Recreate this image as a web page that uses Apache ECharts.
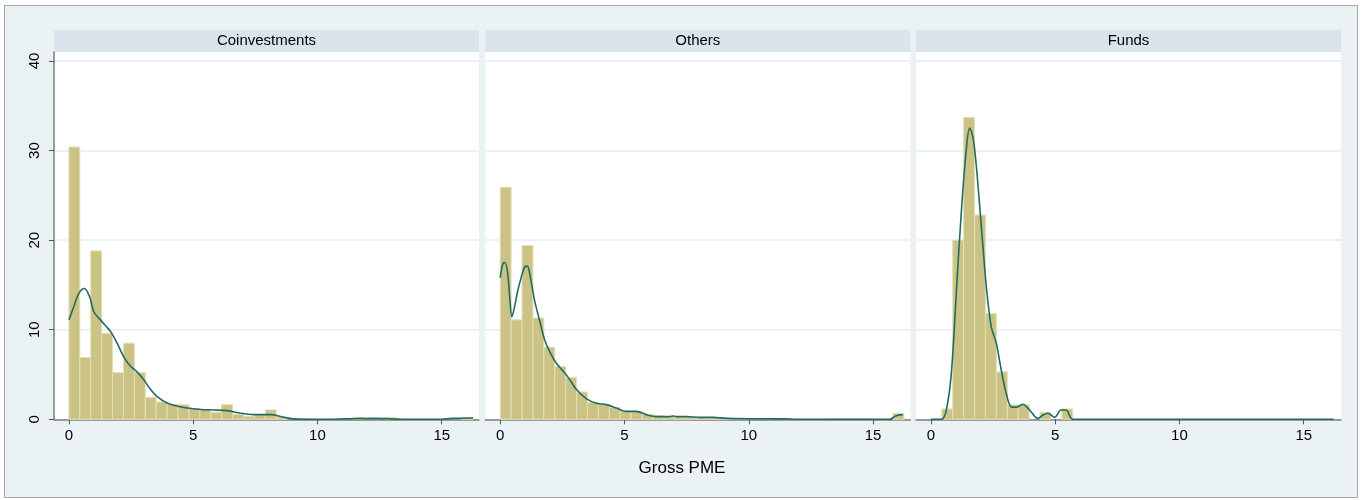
<!DOCTYPE html>
<html>
<head>
<meta charset="utf-8">
<script src="https://cdn.jsdelivr.net/npm/echarts@6/dist/echarts.min.js"></script>
<style>
  body { margin: 0; background: #fff; }
  #frame {
    position: absolute; left: 4px; top: 5px; width: 1354px; height: 493px;
    background: #eaf2f3; border: 1px solid #a8a8a8; box-sizing: border-box;
  }
  #histCharts { position: absolute; left: 0; top: 0; width: 1364px; height: 500px; }
</style>
</head>
<body>
<div id="frame"></div>
<div id="histCharts"></div>
<script>
  // panels and bins (same bins in every panel)
  var panels = ['Coinvestments', 'Others', 'Funds'];
  var binStart = 0;
  var binWidth = 0.439;
  var xTicks = [0, 5, 10, 15];
  var yTicks = [0, 10, 20, 30, 40];
  var xTitle = 'Gross PME';

  // histogram heights (percent), 37 bins
  var coinvHist = [30.4, 6.9, 18.8, 9.6, 5.2, 8.5, 5.2, 2.45, 1.93, 1.65, 1.63, 1.2, 1.1, 0.8, 1.63, 0.55, 0.35, 0.5, 1.05, 0.25,
    0, 0, 0, 0, 0, 0, 0.22, 0, 0, 0.22, 0, 0, 0, 0, 0, 0, 0.22];
  var othersHist = [25.9, 11.1, 19.4, 11.3, 8.05, 5.9, 4.65, 3.05, 1.88, 1.68, 1.32, 0.89, 0.89, 0.55, 0.4, 0.3, 0.28, 0.25, 0.2, 0.15,
    0.12, 0.08, 0.05, 0.05, 0.1, 0, 0, 0, 0, 0, 0.04, 0.04, 0.04, 0.04, 0, 0, 0.65];
  var fundsHist = [0, 1.15, 20.0, 33.7, 22.8, 11.8, 5.3, 1.6, 1.6, 0, 0.78, 0, 1.15, 0, 0, 0, 0, 0, 0, 0,
    0, 0, 0, 0, 0, 0, 0, 0, 0, 0, 0, 0, 0, 0, 0, 0, 0];

  // kernel density curves
  var coinvKdeX = [0, 0.2, 0.4, 0.62, 0.83, 1.0, 1.2, 1.46, 1.7, 1.94, 2.2, 2.47, 2.74, 3.0, 3.28, 3.55, 3.95, 4.35, 4.76, 5.3, 5.83, 6.37, 6.9, 7.45, 8.1, 8.65, 9.2, 10.5, 11.1, 12.3, 13.6, 15.0, 15.4, 16.26];
  var coinvKdeY = [11.1, 12.6, 14.05, 14.6, 13.7, 12.0, 11.3, 10.5, 9.7, 8.5, 7.0, 5.95, 5.3, 4.46, 3.35, 2.53, 1.82, 1.49, 1.26, 1.1, 1.04, 0.97, 0.67, 0.52, 0.52, 0.22, 0.02, 0, 0.05, 0.1, 0, 0, 0.1, 0.15];
  var othersKdeX = [0, 0.11, 0.19, 0.3, 0.38, 0.47, 0.58, 0.71, 0.85, 0.98, 1.09, 1.21, 1.38, 1.58, 1.79, 1.99, 2.26, 2.59, 2.79, 3.06, 3.46, 3.87, 4.27, 4.67, 5.07, 5.48, 5.88, 6.28, 6.82, 6.95, 7.1, 7.5, 8.0, 8.56, 9.1, 10.5, 11.5, 11.9, 15.68, 15.9, 16.2];
  var othersKdeY = [15.8, 17.4, 17.5, 16.3, 13.7, 11.45, 12.6, 14.4, 15.9, 17.0, 17.1, 15.9, 13.3, 11.08, 8.85, 7.55, 6.25, 5.2, 4.46, 3.35, 2.3, 1.78, 1.64, 1.26, 0.89, 0.89, 0.52, 0.3, 0.3, 0.37, 0.3, 0.3, 0.22, 0.22, 0.1, 0.05, 0.05, 0, 0, 0.37, 0.52];
  var fundsKdeX = [0, 0.42, 0.62, 0.82, 1.02, 1.22, 1.42, 1.56, 1.69, 1.82, 2.03, 2.23, 2.43, 2.63, 2.83, 3.03, 3.23, 3.43, 3.7, 3.97, 4.3, 4.5, 4.7, 4.98, 5.24, 5.44, 5.71, 16.2];
  var fundsKdeY = [0, 0, 1.04, 5.1, 14.05, 23, 30.0, 32.5, 31.5, 28.5, 21.5, 14.8, 10.3, 8.5, 5.5, 2.9, 1.4, 1.34, 1.67, 1.04, 0.1, 0.45, 0.67, 0.22, 1.04, 1.04, 0, 0];

  var hists = [coinvHist, othersHist, fundsHist];
  var kdeX = [coinvKdeX, othersKdeX, fundsKdeX];
  var kdeY = [coinvKdeY, othersKdeY, fundsKdeY];

  var panelLeft = [54, 485.3, 916];
  var panelW = 425, panelTop = 52, panelH = 367.3;
  var font = '"Liberation Sans", Arial, sans-serif';

  function renderBar(params, api) {
    if (api.value(2) <= 0) return null;
    var p0 = api.coord([api.value(0), api.value(2)]);
    var p1 = api.coord([api.value(1), 0]);
    return {
      type: 'rect',
      shape: { x: p0[0], y: p0[1], width: p1[0] - p0[0], height: p1[1] - p0[1] },
      style: { fill: '#cbc386', stroke: '#e4dfb4', lineWidth: 1 }
    };
  }

  var grids = [], xAxes = [], yAxes = [], series = [], graphics = [];
  panels.forEach(function (name, i) {
    grids.push({
      left: panelLeft[i], top: panelTop, width: panelW, height: panelH,
      show: true, backgroundColor: '#ffffff', borderWidth: 0
    });
    xAxes.push({
      type: 'value', gridIndex: i, min: -0.6, max: 16.5,
      axisLine: { onZero: false, lineStyle: { color: '#7d7d7d', width: 1.5 } },
      axisTick: { length: 5, customValues: xTicks, lineStyle: { color: '#555', width: 1 } },
      axisLabel: { customValues: xTicks, color: '#000', fontSize: 15, fontFamily: font, margin: 9 },
      splitLine: { show: false }
    });
    yAxes.push({
      type: 'value', gridIndex: i, min: 0, max: 41, interval: 10,
      axisLine: { show: i === 0, onZero: false, lineStyle: { color: '#7d7d7d', width: 1.5 } },
      axisTick: { show: i === 0, length: 5, customValues: yTicks, lineStyle: { color: '#555', width: 1 } },
      axisLabel: {
        show: i === 0, customValues: yTicks, rotate: 90, color: '#000',
        fontSize: 15, fontFamily: font, margin: 12
      },
      splitLine: { show: true, lineStyle: { color: '#e6eef1', width: 1.5 } }
    });
    var bars = hists[i].map(function (h, k) {
      return [binStart + k * binWidth, binStart + (k + 1) * binWidth, h];
    });
    series.push({
      type: 'custom', xAxisIndex: i, yAxisIndex: i,
      renderItem: renderBar, encode: { x: [0, 1], y: 2 }, data: bars, silent: true
    });
    series.push({
      type: 'line', xAxisIndex: i, yAxisIndex: i, showSymbol: false, smooth: 0.35,
      lineStyle: { color: '#236b60', width: 1.6 },
      data: kdeX[i].map(function (x, k) { return [x, kdeY[i][k]]; }),
      z: 3
    });
    graphics.push({
      type: 'rect', left: panelLeft[i], top: 30,
      shape: { width: panelW, height: 22 }, style: { fill: '#d9e5ea' }
    });
    graphics.push({
      type: 'text', x: panelLeft[i] + panelW / 2, y: 41,
      style: { text: name, fill: '#000', font: '15px ' + font, textAlign: 'center', textVerticalAlign: 'middle' }
    });
  });
  graphics.push({
    type: 'text', x: 682, y: 468,
    style: { text: xTitle, fill: '#000', font: '17px ' + font, textAlign: 'center', textVerticalAlign: 'middle' }
  });

  var myCharts = echarts.init(document.getElementById('histCharts'));
  var option = {
    backgroundColor: 'transparent',
    animation: false,
    grid: grids,
    xAxis: xAxes,
    yAxis: yAxes,
    series: series,
    graphic: graphics
  };
  myCharts.setOption(option, true);
</script>
</body>
</html>
